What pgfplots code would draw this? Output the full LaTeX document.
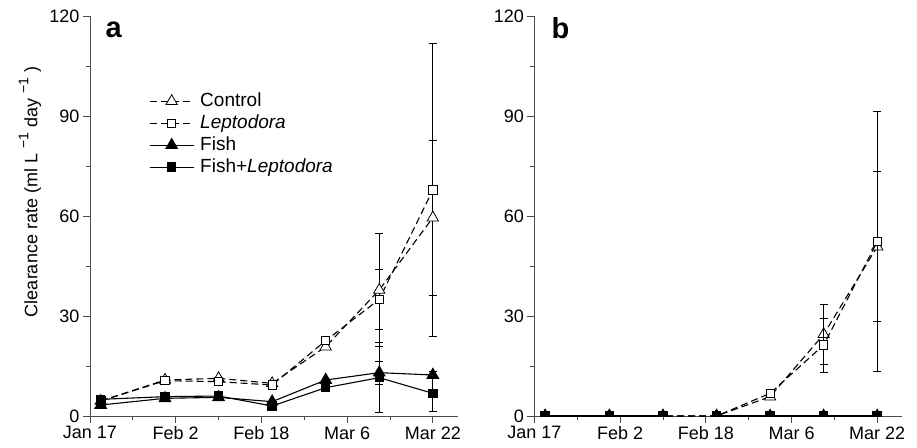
\documentclass[border=0pt]{standalone}
\usepackage{fontspec}
\setmainfont{Liberation Sans}
\usepackage{pgfplots}
\pgfplotsset{compat=1.18}

\newcommand\tickfont{\fontsize{18pt}{21pt}\selectfont}
\newcommand\legfont{\fontsize{19pt}{22pt}\selectfont}
\newcommand\letfont{\fontsize{29pt}{30pt}\selectfont\bfseries}
\newcommand\sups[1]{\raisebox{0.5em}{\fontsize{14pt}{14pt}\selectfont #1}}

\pgfplotsset{
  panel/.style={
    scale only axis, width=368pt, height=400pt,
    xmin=0, xmax=68.7, ymin=0, ymax=120,
    axis lines=left, axis line style={black!70, -, line width=0.8pt},
    xtick={0,16,32,48,64}, xticklabels={Jan 17, Feb 2, Feb 18, Mar 6, Mar 22},
    minor xtick={8,24,40,56},
    ytick={0,30,...,120}, minor ytick={15,45,75,105},
    tick align=outside, major tick length=7pt, minor tick length=4pt,
    every tick/.style={black!70, line width=0.8pt},
    every tick label/.append style={font=\tickfont},
    /pgf/number format/assume math mode=true,
    legend image code/.code={\draw[mark repeat=2,mark phase=2,##1] plot coordinates {(0pt,0pt) (22pt,0pt) (44pt,0pt)};},
  },
  ebar/.style={error bars/.cd, y dir=both, y explicit,
    error bar style={solid, line width=0.7pt, black},
    error mark options={rotate=90, mark size=4pt, line width=0.7pt, black}},
  ctrl/.style={black, line width=1.1pt, dash pattern=on 7pt off 4pt, mark=triangle*, mark size=6.5pt,
    mark options={solid, fill=white, line width=0.8pt}, ebar},
  lept/.style={black, line width=1.1pt, dash pattern=on 7pt off 4pt, mark=square*, mark size=4.2pt,
    mark options={solid, fill=white, line width=0.8pt}, ebar},
  fish/.style={black, line width=1.1pt, solid, mark=triangle*, mark size=6.5pt, mark options={fill=black}, ebar},
  fishl/.style={black, line width=1.1pt, solid, mark=square*, mark size=4.2pt, mark options={fill=black}, ebar},
}

\begin{document}
\begin{tikzpicture}
\useasboundingbox (0pt,0pt) rectangle (917pt,447pt);

% panel a
\begin{axis}[panel, at={(90pt,31pt)}, anchor=south west,
  ylabel={Clearance rate (ml L \sups{\char"2212 1} day \sups{\char"2212 1} )},
  every axis y label/.append style={at={(axis description cs:-0.163,0.56)}, anchor=center, font=\tickfont},
  legend style={draw=none, fill=none, at={(rel axis cs:0.152,0.82)}, anchor=north west,
    font=\legfont, row sep=0pt, nodes={inner sep=2pt, text height=14pt, text depth=4pt},
    /tikz/every odd column/.append style={column sep=4pt}},
  legend cell align=left]
\addplot[ctrl] coordinates {(2,4.5) +- (0,0) (14,10.8) +- (0,0) (24,11.3) +- (0,0) (34,9.8) +- (0,0)
  (44,20.8) +- (0,0) (54,37.8) +- (0,17) (64,59.5) +- (0,23.3)};
\addlegendentry{Control}
\addplot[lept] coordinates {(2,4.5) +- (0,0) (14,10.6) +- (0,0) (24,10.3) +- (0,0) (34,9.3) +- (0,0)
  (44,22.6) +- (0,0) (54,35) +- (0,9) (64,67.8) +- (0,44)};
\addlegendentry{\textit{Leptodora}}
\addplot[fish] coordinates {(2,3.3) +- (0,0) (14,5.3) +- (0,0) (24,5.6) +- (0,0) (34,4.3) +- (0,0)
  (44,10.8) +- (0,0) (54,13) +- (0,3.5) (64,12.3) +- (0,1)};
\addlegendentry{Fish}
\addplot[fishl] coordinates {(2,5.0) +- (0,0) (14,5.8) +- (0,0) (24,6.0) +- (0,0) (34,3.0) +- (0,0)
  (44,8.5) +- (0,0) (54,11.5) +- (0,10.5) (64,6.8) +- (0,5.5)};
\addlegendentry{Fish+\textit{Leptodora}}
\node[anchor=base west, font=\letfont] at (rel axis cs:0.033,0.945) {a};
\end{axis}

% panel b
\begin{axis}[panel, at={(534.4pt,31pt)}, anchor=south west,
  clip marker paths=true, unbounded coords=jump]
\addplot[ctrl] coordinates {(2,0) +- (0,0) (14,0) +- (0,0) (24,0) +- (0,0) (34,0) +- (0,0)
  (44,5.8) +- (0,0) (54,24.5) +- (0,9) (64,50.8) +- (0,22.5)};
\addplot[lept] coordinates {(2,0) +- (0,0) (14,0) +- (0,0) (24,0) +- (0,0) (34,0) +- (0,0)
  (44,6.8) +- (0,0) (54,21.3) +- (0,8.1) (64,52.3) +- (0,39)};
\addplot[fish] coordinates {(2,0) +- (0,0) (14,0) +- (0,0) (24,0) +- (0,0) (29,nan) +- (0,0) (34,0) +- (0,0)
  (44,0) +- (0,0) (54,0) +- (0,0) (64,0) +- (0,0)};
\addplot[fishl] coordinates {(2,0) +- (0,0) (14,0) +- (0,0) (24,0) +- (0,0) (29,nan) +- (0,0) (34,0) +- (0,0)
  (44,0) +- (0,0) (54,0) +- (0,0) (64,0) +- (0,0)};
\node[anchor=base west, font=\letfont] at (rel axis cs:0.037,0.944) {b};
\end{axis}
\end{tikzpicture}
\end{document}
